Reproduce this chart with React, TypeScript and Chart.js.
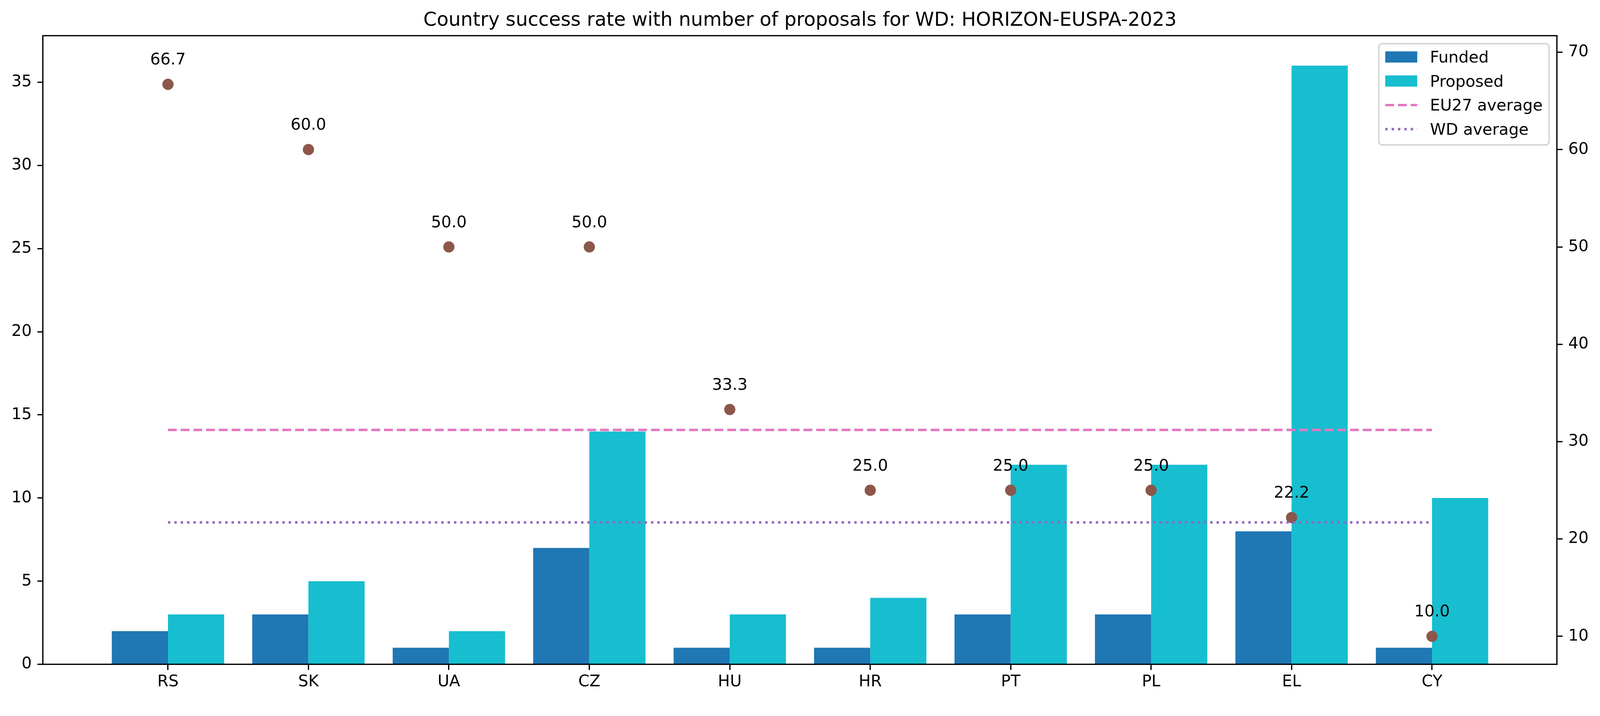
import React, { useEffect, useRef } from 'react';
import { Chart, registerables } from 'chart.js';

Chart.register(...registerables);

// ---------- data ----------
const countries = ['RS', 'SK', 'UA', 'CZ', 'HU', 'HR', 'PT', 'PL', 'EL', 'CY'];
const fundedCounts = [2, 3, 1, 7, 1, 1, 3, 3, 8, 1];
const proposedCounts = [3, 5, 2, 14, 3, 4, 12, 12, 36, 10];
const successRates = [66.7, 60.0, 50.0, 50.0, 33.3, 25.0, 25.0, 25.0, 22.2, 10.0];
const eu27Average = 31.2;
const wdAverage = 21.7;
const countTicks = [0, 5, 10, 15, 20, 25, 30, 35];
const rateTicks = [10, 20, 30, 40, 50, 60, 70];
const titleText = 'Country success rate with number of proposals for WD: HORIZON-EUSPA-2023';
const legendLabels = ['Funded', 'Proposed', 'EU27 average', 'WD average'];

// ---------- styling / layout (in reference pixels) ----------
const W = 4170;
const H = 1833;
const PT = 300 / 72;
const FAMILY = "'DejaVu Sans', sans-serif";
const AREA_LEFT = 112;
const AREA_RIGHT = 4058;
const AREA_TOP = 93;
const AREA_BOTTOM = 1732;
const COLORS = {
  funded: '#1f77b4',
  proposed: '#17becf',
  rate: '#8c564b',
  eu27: '#e377c2',
  wd: '#9467bd',
};

function roundRectPath(ctx: CanvasRenderingContext2D, x: number, y: number, w: number, h: number, r: number) {
  ctx.beginPath();
  ctx.moveTo(x + r, y);
  ctx.lineTo(x + w - r, y);
  ctx.arcTo(x + w, y, x + w, y + r, r);
  ctx.lineTo(x + w, y + h - r);
  ctx.arcTo(x + w, y + h, x + w - r, y + h, r);
  ctx.lineTo(x + r, y + h);
  ctx.arcTo(x, y + h, x, y + h - r, r);
  ctx.lineTo(x, y + r);
  ctx.arcTo(x, y, x + r, y, r);
  ctx.closePath();
}

function getScale() {
  const iw = typeof window !== 'undefined' ? window.innerWidth : W;
  return iw > 0 ? iw / W : 1;
}

export default function App() {
  const canvasRef = useRef<HTMLCanvasElement | null>(null);
  const s = getScale();
  const cw = W * s;
  const ch = H * s;

  useEffect(() => {
    if (!canvasRef.current) return;
    const FS = 10 * PT * s;
    const TITLE_FS = 12 * PT * s;
    const LW = 0.8 * PT * s;
    const TICK = 3.5 * PT * s;
    const LINE_W = 1.5 * PT * s;
    const DASH = [3.7 * LINE_W, 1.6 * LINE_W];
    const DOT = [1 * LINE_W, 1.65 * LINE_W];
    const tickFont = { family: FAMILY, size: FS };
    const idx = countries.map((_, i) => i);

    const decorPlugin = {
      id: 'decor',
      afterDatasetsDraw(chart: any) {
        const ctx = chart.ctx as CanvasRenderingContext2D;
        const meta = chart.getDatasetMeta(2);
        ctx.save();
        ctx.fillStyle = '#000';
        ctx.font = `${FS}px ${FAMILY}`;
        ctx.textAlign = 'center';
        ctx.textBaseline = 'alphabetic';
        meta.data.forEach((pt: any, i: number) => {
          ctx.fillText(successRates[i].toFixed(1), pt.x, pt.y - 10 * PT * s - 0.236 * FS);
        });
        ctx.restore();
      },
      afterDraw(chart: any) {
        const ctx = chart.ctx as CanvasRenderingContext2D;
        const area = chart.chartArea;
        ctx.save();
        // top spine
        ctx.strokeStyle = '#000';
        ctx.lineWidth = LW;
        ctx.beginPath();
        ctx.moveTo(area.left - LW / 2, area.top);
        ctx.lineTo(area.right + LW / 2, area.top);
        ctx.stroke();

        // title
        ctx.fillStyle = '#000';
        ctx.font = `${TITLE_FS}px ${FAMILY}`;
        ctx.textAlign = 'center';
        ctx.textBaseline = 'alphabetic';
        ctx.fillText(titleText, (area.left + area.right) / 2, 67 * s);

        // legend
        ctx.font = `${FS}px ${FAMILY}`;
        const textW = Math.max(...legendLabels.map((l) => ctx.measureText(l).width));
        const pad = 0.4 * FS;
        const frameW = pad * 2 + 2 * FS + 0.8 * FS + textW;
        const frameRight = area.right - 0.5 * FS;
        const frameLeft = frameRight - frameW;
        const frameTop = area.top + 0.5 * FS;
        const rowGap = 62.7 * s;
        const firstOff = 49.2 * s;
        const firstBase = frameTop + firstOff;
        const frameH = firstOff + rowGap * 3 + 0.236 * FS + pad;
        roundRectPath(ctx, frameLeft, frameTop, frameW, frameH, 0.2 * FS);
        ctx.fillStyle = 'rgba(255,255,255,0.8)';
        ctx.fill();
        ctx.strokeStyle = 'rgba(204,204,204,0.8)';
        ctx.lineWidth = 1 * PT * s;
        ctx.stroke();

        const hx = frameLeft + pad;
        const hw = 2 * FS;
        const tx = hx + hw + 0.8 * FS;
        legendLabels.forEach((label, i) => {
          const base = firstBase + i * rowGap;
          if (i < 2) {
            ctx.fillStyle = i === 0 ? COLORS.funded : COLORS.proposed;
            ctx.fillRect(hx, base - 0.7 * FS, hw, 0.7 * FS);
          } else {
            ctx.save();
            ctx.strokeStyle = i === 2 ? COLORS.eu27 : COLORS.wd;
            ctx.lineWidth = LINE_W;
            ctx.lineCap = 'butt';
            ctx.setLineDash(i === 2 ? DASH : DOT);
            ctx.beginPath();
            const ly = base - 0.35 * FS;
            ctx.moveTo(hx, ly);
            ctx.lineTo(hx + hw, ly);
            ctx.stroke();
            ctx.restore();
          }
          ctx.fillStyle = '#000';
          ctx.textAlign = 'left';
          ctx.textBaseline = 'alphabetic';
          ctx.fillText(label, tx, base);
        });
        ctx.restore();
      },
    };

    const axisGrid = {
      display: true,
      drawOnChartArea: false,
      drawTicks: true,
      tickLength: TICK,
      lineWidth: LW,
      color: '#000',
      offset: false,
      z: 1,
    };
    const axisBorder = { display: true, color: '#000', width: LW, z: 1 };

    const chart = new Chart(canvasRef.current, {
      type: 'bar',
      data: {
        datasets: [
          {
            type: 'bar',
            label: 'Funded',
            data: idx.map((i) => ({ x: i, y: fundedCounts[i] })),
            backgroundColor: COLORS.funded,
            borderWidth: 0,
            categoryPercentage: 0.8,
            barPercentage: 1.0,
            xAxisID: 'x',
            yAxisID: 'y',
            order: 10,
          },
          {
            type: 'bar',
            label: 'Proposed',
            data: idx.map((i) => ({ x: i, y: proposedCounts[i] })),
            backgroundColor: COLORS.proposed,
            borderWidth: 0,
            categoryPercentage: 0.8,
            barPercentage: 1.0,
            xAxisID: 'x',
            yAxisID: 'y',
            order: 10,
          },
          {
            type: 'scatter',
            label: 'Success rate',
            data: idx.map((i) => ({ x: i, y: successRates[i] })),
            backgroundColor: COLORS.rate,
            borderColor: COLORS.rate,
            pointRadius: 14.6 * s,
            pointBorderWidth: 0,
            xAxisID: 'x',
            yAxisID: 'y1',
            order: 5,
          },
          {
            type: 'line',
            label: 'EU27 average',
            data: [
              { x: 0, y: eu27Average },
              { x: countries.length - 1, y: eu27Average },
            ],
            borderColor: COLORS.eu27,
            borderWidth: LINE_W,
            borderDash: DASH,
            pointRadius: 0,
            fill: false,
            xAxisID: 'x',
            yAxisID: 'y1',
            order: 1,
          },
          {
            type: 'line',
            label: 'WD average',
            data: [
              { x: 0, y: wdAverage },
              { x: countries.length - 1, y: wdAverage },
            ],
            borderColor: COLORS.wd,
            borderWidth: LINE_W,
            borderDash: DOT,
            pointRadius: 0,
            fill: false,
            xAxisID: 'x',
            yAxisID: 'y1',
            order: 1,
          },
        ] as any,
      },
      options: {
        animation: false,
        responsive: false,
        events: [],
        layout: { padding: { top: AREA_TOP * s, left: 0, right: 0, bottom: 0 } },
        plugins: {
          legend: { display: false },
          title: { display: false },
          tooltip: { enabled: false },
        },
        scales: {
          x: {
            type: 'linear',
            position: 'bottom',
            min: -0.89,
            max: 9.89,
            offset: false,
            afterBuildTicks: (sc: any) => {
              sc.ticks = idx.map((i) => ({ value: i }));
            },
            afterFit: (sc: any) => {
              sc.height = (H - AREA_BOTTOM) * s;
            },
            ticks: {
              callback: (v: any) => countries[Math.round(Number(v))] ?? '',
              autoSkip: false,
              maxRotation: 0,
              minRotation: 0,
              padding: 6.4 * s,
              color: '#000',
              font: tickFont,
            },
            grid: axisGrid,
            border: axisBorder,
          },
          y: {
            type: 'linear',
            position: 'left',
            min: 0,
            max: 37.8,
            afterBuildTicks: (sc: any) => {
              sc.ticks = countTicks.map((v) => ({ value: v }));
            },
            afterFit: (sc: any) => {
              sc.width = AREA_LEFT * s;
            },
            ticks: { padding: TICK, color: '#000', font: tickFont },
            grid: axisGrid,
            border: axisBorder,
          },
          y1: {
            type: 'linear',
            position: 'right',
            min: 7.12,
            max: 71.7,
            afterBuildTicks: (sc: any) => {
              sc.ticks = rateTicks.map((v) => ({ value: v }));
            },
            afterFit: (sc: any) => {
              sc.width = (W - AREA_RIGHT) * s;
            },
            ticks: { padding: TICK, color: '#000', font: tickFont },
            grid: axisGrid,
            border: axisBorder,
          },
        },
      } as any,
      plugins: [decorPlugin],
    });
    return () => chart.destroy();
  }, [s]);

  return (
    <div style={{ position: 'fixed', left: 0, top: 0, width: cw, height: ch, background: '#fff' }}>
      <canvas
        ref={canvasRef}
        width={Math.round(cw)}
        height={Math.round(ch)}
        style={{ width: Math.round(cw), height: Math.round(ch), display: 'block' }}
      />
    </div>
  );
}
